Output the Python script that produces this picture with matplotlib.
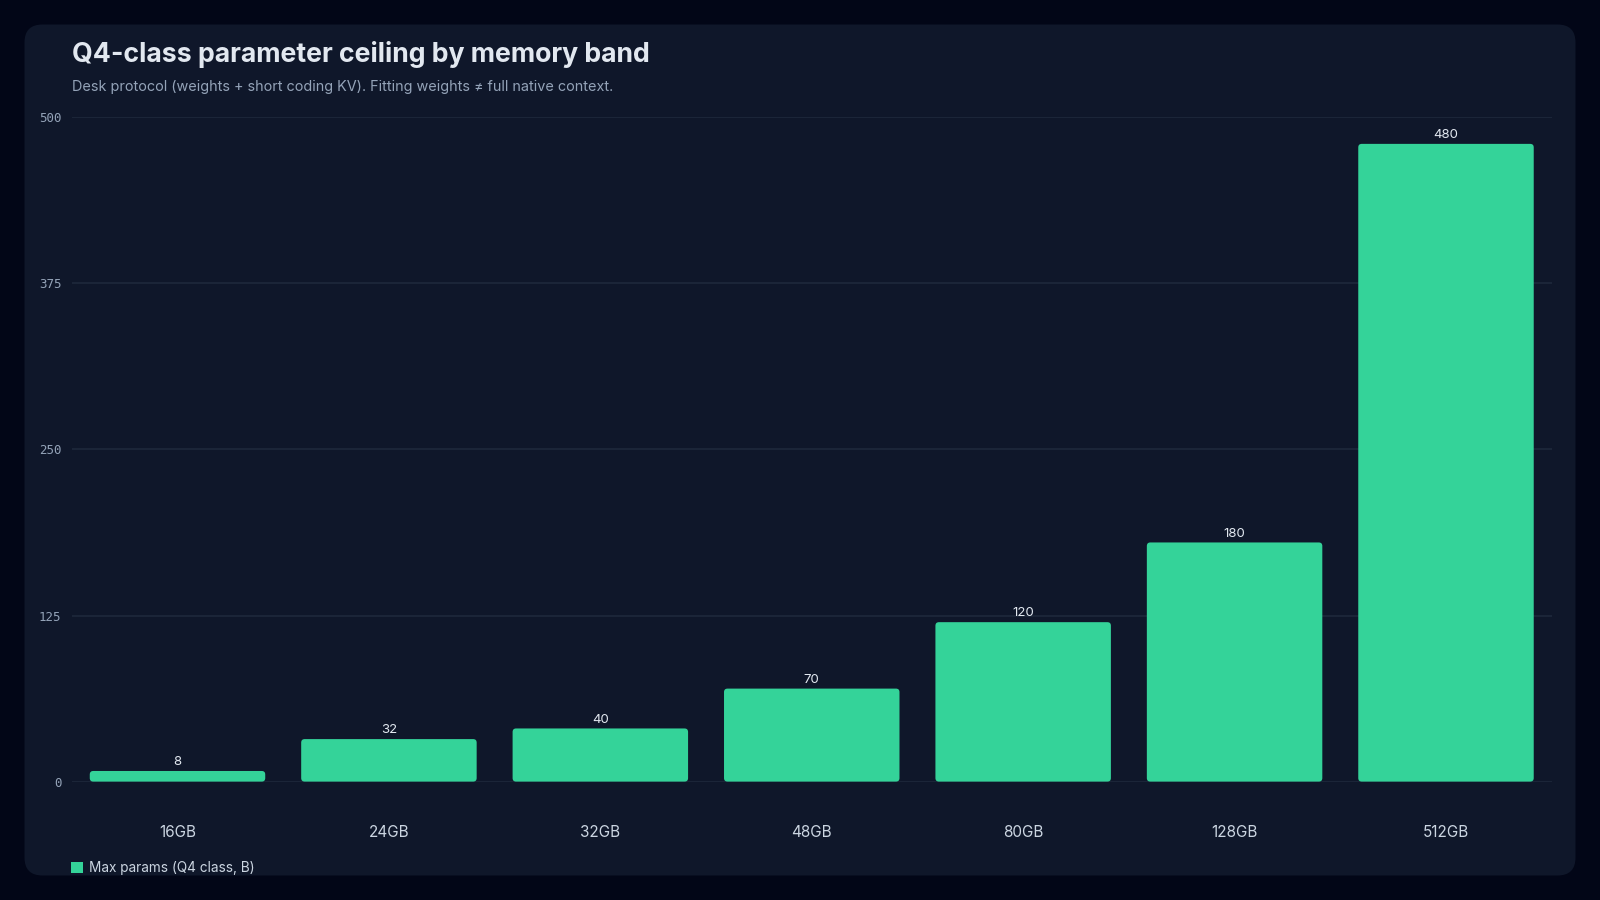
"""Q4-class parameter ceiling by memory band"""

import matplotlib
matplotlib.use("Agg")
from matplotlib import pyplot as plt
from matplotlib.patches import FancyBboxPatch, Patch

bands = ["16GB", "24GB", "32GB", "48GB", "80GB", "128GB", "512GB"]
max_params = [8, 32, 40, 70, 120, 180, 480]
y_ticks = [0, 125, 250, 375, 500]
series_name = "Max params (Q4 class, B)"

BG = "#020617"
CARD = "#0f172a"
GRID = "#1e293b"
BAR = "#34d399"

plt.rcParams["font.family"] = ["Inter", "DejaVu Sans"]

fig = plt.figure(figsize=(16, 9), dpi=100, facecolor=BG)

# Card background, drawn in pixel space.
bg = fig.add_axes([0, 0, 1, 1])
bg.set_xlim(0, 1600)
bg.set_ylim(900, 0)
bg.axis("off")
bg.add_patch(FancyBboxPatch((24.5, 24.5), 1551, 851,
                            boxstyle="round,pad=0,rounding_size=18",
                            fc=CARD, ec="none"))

fig.text(72.5 / 1600, 1 - 55 / 900, "Q4-class parameter ceiling by memory band",
         fontsize=19.2, fontweight="bold", color="#e2e8f0", va="center")
fig.text(72 / 1600, 1 - 87 / 900,
         "Desk protocol (weights + short coding KV). Fitting weights \u2260 full native context.",
         fontsize=10.4, color="#94a3b8", va="center")

ax = fig.add_axes([71.8 / 1600, 118.4 / 900, 1479.9 / 1600, 664.3 / 900])
ax.set_facecolor("none")
ax.set_xlim(-0.5, len(bands) - 0.5)
ax.set_ylim(0, 500)
for s in ax.spines.values():
    s.set_visible(False)
ax.set_yticks(y_ticks)
ax.set_yticklabels([str(t) for t in y_ticks], family="DejaVu Sans Mono",
                   fontsize=9, color="#94a3b8")
ax.set_xticks(range(len(bands)))
ax.set_xticklabels(bands, fontsize=11, color="#cbd5e1")
ax.tick_params(axis="both", length=0)
ax.tick_params(axis="x", pad=31)
ax.tick_params(axis="y", pad=7.5)
ax.grid(axis="y", color=GRID, lw=1.2)
ax.set_axisbelow(True)

bars = ax.bar(range(len(bands)), max_params, width=0.83, color=BAR)

# Swap plain rectangles for slightly rounded ones.
fig.canvas.draw()
px_x = ax.transData.transform((1, 0))[0] - ax.transData.transform((0, 0))[0]
px_y = ax.transData.transform((0, 1))[1] - ax.transData.transform((0, 0))[1]
r_px = 3.5
for rect in bars.patches:
    rect.set_visible(False)
    ax.add_patch(FancyBboxPatch((rect.get_x(), rect.get_y()), rect.get_width(), rect.get_height(),
                                boxstyle=f"round,pad=0,rounding_size={r_px / px_x}",
                                mutation_aspect=px_x / px_y, fc=BAR, ec="none"))

for i, v in enumerate(max_params):
    ax.annotate(str(v), (i, v), xytext=(0, 2), textcoords="offset points",
                ha="center", va="bottom", fontsize=9.5, color="#e2e8f0")

leg = ax.legend(handles=[Patch(fc=BAR, ec="none", label=series_name)],
                loc="center left", bbox_to_anchor=(59 / 1600, 1 - 868 / 900),
                bbox_transform=fig.transFigure, frameon=False,
                handlelength=0.85, handleheight=0.85, handletextpad=0.45,
                fontsize=9.8, labelcolor="#cbd5e1")

fig.savefig("out.png", dpi=100, facecolor=BG)
